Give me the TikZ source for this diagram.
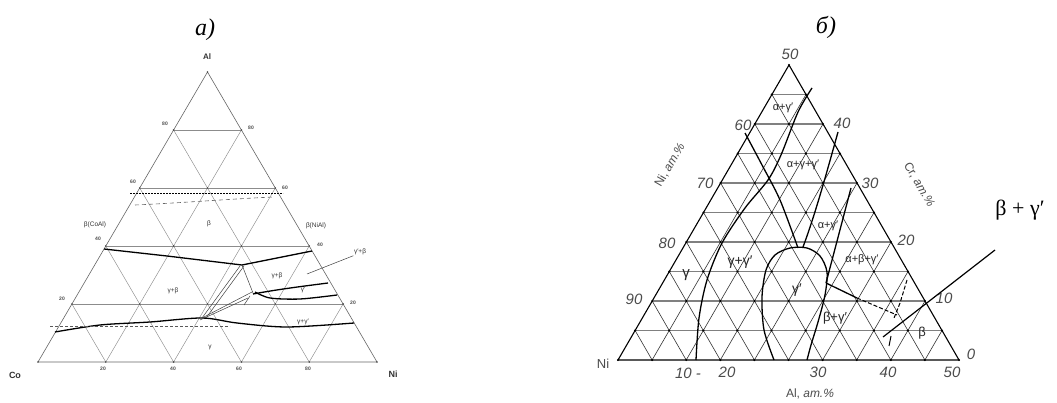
\documentclass[tikz,border=0pt]{standalone}
\usepackage{fontspec}
\setmainfont{Liberation Serif}
\newfontfamily\lsans{Liberation Sans}
\usetikzlibrary{calc}
\tikzset{
 gridA/.style={draw=black!45, line width=0.45pt},
 gridB/.style={draw=black!80, line width=0.6pt},
 hgridB/.style={draw=black!50, line width=1.1pt},
 frameA/.style={draw=black!60, line width=0.6pt},
 frameB/.style={draw=black, line width=1.1pt},
 phase/.style={draw=black, line width=1.3pt, line join=round},
 thinline/.style={draw=black!75, line width=0.5pt},
 tinylab/.style={font=\lsans\bfseries\fontsize{5}{5}\selectfont, text=black!70, inner sep=0.5pt},
 smalllab/.style={font=\lsans\fontsize{6.5}{6.5}\selectfont, text=black!80, inner sep=0.5pt},
 cornerlab/.style={font=\lsans\bfseries\fontsize{8}{8}\selectfont, text=black!80, inner sep=0.5pt},
 ticklab/.style={font=\lsans\itshape\fontsize{15}{15}\selectfont, text=black!70, inner sep=0.5pt},
 axlab/.style={font=\lsans\fontsize{12}{12}\selectfont, text=black!70, inner sep=0.5pt},
 plab/.style={font=\lsans\fontsize{11}{11}\selectfont, text=black!85, inner sep=0.5pt},
 titlelab/.style={font=\itshape\fontsize{24}{24}\selectfont, inner sep=0pt},
 biglab/.style={font=\fontsize{22}{22}\selectfont, inner sep=0pt}
}
\begin{document}
\begin{tikzpicture}[x=1pt,y=-1pt]
\useasboundingbox (0,0) rectangle (1057,403);
\fill[white] (0,0) rectangle (1057,403);

% ---------------- left diagram ----------------
\node[titlelab] (ta) at (205,30) {а)};
\coordinate (Al) at (207.5,72);
\coordinate (Co) at (38,362);
\coordinate (Ni) at (377,362);
\foreach \i in {1,...,4}{
  \draw[gridA] ($(Co)!\i/5!(Al)$) -- ($(Ni)!\i/5!(Al)$);
  \draw[gridA] ($(Co)!\i/5!(Ni)$) -- ($(Co)!\i/5!(Al)$);
  \draw[gridA] ($(Ni)!\i/5!(Co)$) -- ($(Ni)!\i/5!(Al)$);
}
\draw[frameA] (Co) -- (Ni) -- (Al) -- cycle;
\foreach \j in {0,...,5}{
  \pgfmathtruncatemacro\m{5-\j}
  \foreach \i in {0,...,\m}{
    \fill[black!70] ({38+\i*67.8+\j*33.9},{362-\j*58}) circle (0.9);
  }
}
\node[cornerlab] (lAl) at (207,57) {Al};
\node[cornerlab, font=\lsans\bfseries\fontsize{9}{9}\selectfont] (lCo) at (15,375) {Co};
\node[cornerlab, font=\lsans\bfseries\fontsize{9}{9}\selectfont] (lNi) at (393,374) {Ni};
\foreach \x/\t in {103/20,173/40,239/60,308/80}{
  \node[tinylab] at (\x,369) {\t};
}
\foreach \x/\y/\t in {165/124/80,133/182/60,98/239/40,62/299/20}{
  \node[tinylab] at (\x,\y) {\t};
}
\foreach \x/\y/\t in {251/128/80,285/188/60,320/245/40,353/303/20}{
  \node[tinylab] at (\x,\y) {\t};
}
% phase boundaries
\draw[phase, line width=0.9pt, dash pattern=on 2pt off 1pt] (130,193) -- (283,193);
\draw[draw=black!60, line width=0.6pt, dash pattern=on 4pt off 3pt] (135,205) .. controls (180,203) and (230,199) .. (273,197);
\draw[phase] (104,249) -- (167,256) -- (242,265) -- (312,251);
\draw[phase] (253,294) .. controls (280,289) and (305,286) .. (328,283);
\draw[phase] plot[smooth] coordinates {(255,292) (270,298) (300,299) (337,295)};
\draw[phase] plot[smooth] coordinates {(55,332) (100,325) (150,322) (202,318) (237,323) (287,327) (354,323)};
\draw[draw=black!65, line width=0.6pt, dash pattern=on 3pt off 2pt] (50,326) -- (230,326);
\draw[thinline] (202,318) -- (252,292);
\draw[thinline] (200,320) -- (248,298);
\draw[thinline] (202,318) -- (240,266);
\draw[thinline] (206,318) -- (244,266);
\draw[thinline] (242,265) -- (253,293);
\draw[thinline] (244,305) -- (250,296);
% labels
\node[smalllab] (bco) at (95,225) {β(CoAl)};
\node[smalllab] (bni) at (316,226) {β(NiAl)};
\node[smalllab] (lb) at (209,224) {β};
\node[smalllab] (lgb1) at (173,291) {γ+β};
\node[smalllab] (lgb2) at (277,276) {γ+β};
\node[smalllab] (lgp) at (303,290) {γ′};
\node[smalllab] (lggp) at (303,322) {γ+γ′};
\node[smalllab] (lg) at (210,347) {γ};
\node[smalllab] (lgpb) at (360,252) {γ′+β};
\coordinate (lgpbend) at (307,274);
\draw[thinline] (lgpb.south west) -- (lgpbend);

% ---------------- right diagram ----------------
\node[titlelab] (tb) at (826,27) {б)};
\coordinate (N) at (618,360);
\coordinate (R) at (959,360);
\coordinate (T) at (789,65);
\foreach \i in {1,...,9}{
  \draw[hgridB] ($(N)!\i/10!(T)$) -- ($(R)!\i/10!(T)$);
  \draw[gridB] ($(N)!\i/10!(R)$) -- ($(N)!\i/10!(T)$);
  \draw[gridB] ($(R)!\i/10!(N)$) -- ($(R)!\i/10!(T)$);
}
\draw[frameB] (N) -- (R) -- (T) -- cycle;
\foreach \j in {0,...,10}{
  \pgfmathtruncatemacro\m{10-\j}
  \foreach \i in {0,...,\m}{
    \fill[black] ({618+\i*34.1+\j*17.1},{360-\j*29.5}) circle (1.2);
  }
}
% tick labels
\node[ticklab] at (790,54) {50};
\node[ticklab] at (842,123) {40};
\node[ticklab] at (870,183) {30};
\node[ticklab] at (906,240) {20};
\node[ticklab] at (944,298) {10};
\node[ticklab] at (971,354) {0};
\node[ticklab] at (743,125) {60};
\node[ticklab] at (705,183) {70};
\node[ticklab] at (667,243) {80};
\node[ticklab] at (634,299) {90};
\node[axlab, font=\lsans\fontsize{13}{13}\selectfont] (rNi) at (603,364) {Ni};
\node[ticklab] at (688,373) {10 -};
\node[ticklab] at (727,372) {20};
\node[ticklab] at (818,372) {30};
\node[ticklab] at (888,372) {40};
\node[ticklab] at (952,372) {50};
\node[axlab] (axAl) at (810,394) {Al, \textit{ат.\%}};
\node[axlab, rotate=60] (axNi) at (670,165) {Ni, \textit{ат.\%}};
\node[axlab, rotate=-60] (axCr) at (919,185) {Cr, \textit{ат.\%}};
% phase boundaries
\draw[phase] plot[smooth] coordinates {(696,360) (699,318) (707,280) (722,243) (745,208) (768,180) (781,155) (798,112) (812,88)};
\draw[phase] plot[smooth] coordinates {(745,133) (762,165) (780,200) (798,248)};
\draw[phase] (838,132) .. controls (826,175) and (815,215) .. (803,247);
\draw[phase] (851,188) -- (826,283);
\draw[phase] plot[smooth] coordinates {(774,360) (764,330) (762,297) (766,270) (775,255) (790,248) (807,248) (820,256) (827,272) (825,295) (818,322) (811,345) (807,360)};
\draw[phase] (826,283) -- (857,298);
\draw[phase, line width=1pt, dash pattern=on 4pt off 2pt] (857,298) -- (897,315);
\draw[phase, line width=1pt, dash pattern=on 4pt off 2pt] (907,280) -- (900,303) -- (894,318);
\draw[phase, line width=1pt] (891,336) -- (889,346);
% phase labels
\node[plab] at (783,108) {α+γ′};
\node[plab] at (803,165) {α+γ+γ′};
\node[plab] at (828,226) {α+γ′};
\node[plab] at (862,260) {α+β+γ′};
\node[plab, font=\lsans\fontsize{14}{14}\selectfont] at (797,290) {γ′};
\node[plab, font=\lsans\fontsize{13}{13}\selectfont] at (835,318) {β+γ′};
\node[plab, font=\lsans\fontsize{13}{13}\selectfont] at (922,333) {β};
\node[plab, font=\lsans\fontsize{14}{14}\selectfont] at (740,262) {γ+γ′};
\node[plab, font=\lsans\fontsize{15}{15}\selectfont] at (686,275) {γ};
% external label and leader
\node[biglab] (bg) at (1020,210) {β + γ′};
\coordinate (bgend) at (883,337);
\draw[draw=black, line width=1.2pt] (995,250) -- (bgend);
\end{tikzpicture}
\end{document}
